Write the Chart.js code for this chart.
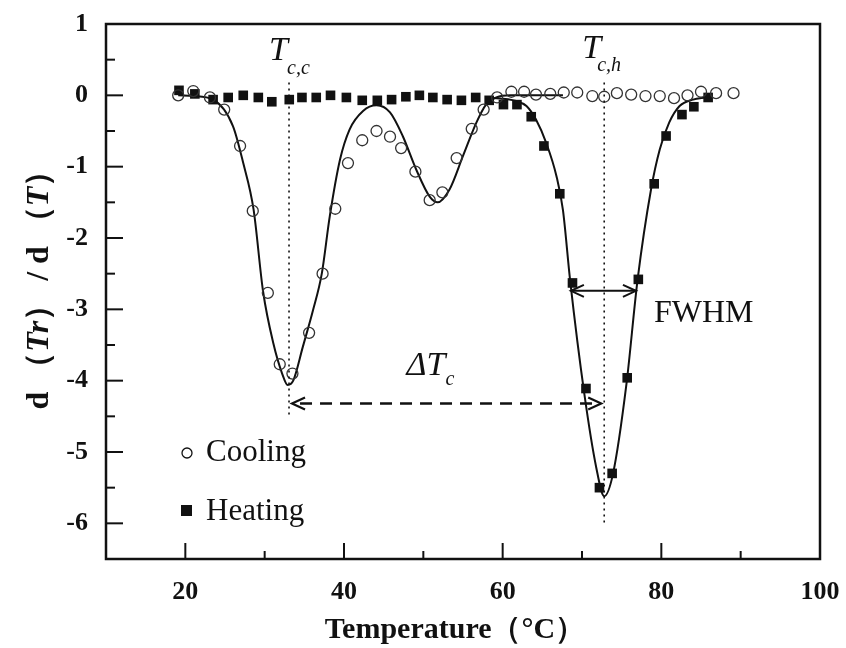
<!DOCTYPE html>
<html>
<head>
<meta charset="utf-8">
<script src="https://cdn.jsdelivr.net/npm/chart.js@4.4.1/dist/chart.umd.min.js"></script>
<style>
  html, body { margin: 0; padding: 0; background: #fff; }
</style>
</head>
<body>
<canvas id="chart" width="846" height="648"></canvas>
<script>
const serif = '"Liberation Serif", "Times New Roman", serif';

// Cooling (open circles)
const coolingTemp = [19.1, 21.0, 23.1, 24.9, 26.9, 28.5, 30.4, 31.9, 33.5, 35.6, 37.3, 38.9, 40.5, 42.3, 44.1, 45.8, 47.2, 49.0, 50.8, 52.4, 54.2, 56.1, 57.6, 59.3, 61.1, 62.7, 64.2, 66.0, 67.7, 69.4, 71.3, 72.8, 74.4, 76.2, 78.0, 79.8, 81.6, 83.3, 85.0, 86.9, 89.1];
const coolingVal = [0.0, 0.06, -0.03, -0.2, -0.71, -1.62, -2.77, -3.77, -3.9, -3.33, -2.5, -1.59, -0.95, -0.63, -0.5, -0.58, -0.74, -1.07, -1.47, -1.36, -0.88, -0.47, -0.2, -0.03, 0.05, 0.05, 0.01, 0.02, 0.04, 0.04, -0.01, -0.02, 0.03, 0.01, -0.01, -0.01, -0.04, 0.0, 0.05, 0.03, 0.03];

// Heating (filled squares)
const heatingTemp = [19.2, 21.2, 23.5, 25.4, 27.3, 29.2, 30.9, 33.1, 34.7, 36.5, 38.3, 40.3, 42.3, 44.2, 46.0, 47.8, 49.5, 51.2, 53.0, 54.8, 56.6, 58.3, 60.1, 61.8, 63.6, 65.2, 67.2, 68.8, 70.5, 72.2, 73.8, 75.7, 77.1, 79.1, 80.6, 82.6, 84.1, 85.9];
const heatingVal = [0.07, 0.02, -0.06, -0.03, 0.0, -0.03, -0.09, -0.06, -0.03, -0.03, 0.0, -0.03, -0.07, -0.07, -0.06, -0.02, 0.0, -0.03, -0.06, -0.07, -0.03, -0.07, -0.13, -0.13, -0.3, -0.71, -1.38, -2.63, -4.11, -5.5, -5.3, -3.96, -2.58, -1.24, -0.57, -0.27, -0.16, -0.03];

// fitted curves
const coolFitTemp = [19.1, 21.0, 23.5, 26.0, 27.3, 28.6, 29.8, 31.1, 32.2, 32.9, 33.6, 34.8, 36.1, 37.2, 38.2, 39.5, 40.7, 42.4, 44.1, 45.8, 47.4, 49.1, 50.8, 51.8, 53.3, 55.0, 56.7, 57.9, 59.2, 61.0, 67.6];
const coolFitVal = [0.0, -0.01, -0.06, -0.43, -0.95, -1.6, -2.75, -3.48, -3.9, -4.06, -4.0, -3.53, -3.01, -2.5, -1.7, -0.9, -0.48, -0.22, -0.14, -0.24, -0.57, -1.04, -1.42, -1.5, -1.32, -0.85, -0.38, -0.13, -0.03, 0.0, 0.0];
const heatFitTemp = [58.0, 61.7, 63.0, 64.2, 65.5, 66.8, 67.6, 68.5, 70.3, 71.8, 72.8, 73.9, 75.6, 77.0, 78.7, 79.8, 81.0, 82.3, 84.0, 85.6];
const heatFitVal = [-0.03, -0.08, -0.15, -0.34, -0.67, -1.14, -1.61, -2.59, -4.19, -5.22, -5.62, -5.31, -4.05, -2.59, -1.32, -0.76, -0.38, -0.15, -0.06, -0.03];

// tick labels
const xTickLabels = [20, 40, 60, 80, 100];
const yTickLabels = [1, 0, -1, -2, -3, -4, -5, -6];

// annotation values (data units)
const tcc = 33.07;
const tch = 72.8;
const deltaY = -4.32;
const fwhmY = -2.74;
const fwhmLeft = 68.6;
const fwhmRight = 76.8;

const toXY = (xs, ys) => xs.map((t, i) => ({ x: t, y: ys[i] }));

function line(ctx, x1, y1, x2, y2) {
    ctx.beginPath();
    ctx.moveTo(x1, y1);
    ctx.lineTo(x2, y2);
    ctx.stroke();
}

function arrowHead(ctx, x, y, dir) {
    // dir = 1 points right, -1 points left
    ctx.beginPath();
    ctx.moveTo(x - dir * 13, y - 6);
    ctx.lineTo(x, y);
    ctx.lineTo(x - dir * 13, y + 6);
    ctx.stroke();
}

// draw a list of [text, font, dy] runs one after another
function drawRuns(ctx, runs, x, y, align) {
    let total = 0;
    runs.forEach(r => { ctx.font = r[1]; total += ctx.measureText(r[0]).width; });
    let cx = align === 'center' ? x - total / 2 : x;
    runs.forEach(r => {
        ctx.font = r[1];
        ctx.fillText(r[0], cx, y + (r[2] || 0));
        cx += ctx.measureText(r[0]).width;
    });
}

const framePlugin = {
    id: 'frame',
    afterDatasetsDraw(chart) {
        const { ctx, chartArea: a, scales: { x, y } } = chart;
        ctx.save();
        ctx.strokeStyle = '#111';
        ctx.fillStyle = '#111';
        ctx.setLineDash([]);

        // inward tick marks
        ctx.lineWidth = 2;
        x.ticks.forEach(t => {
            if (t.value <= x.min || t.value >= x.max) return;
            const px = x.getPixelForValue(t.value);
            const len = xTickLabels.includes(t.value) ? 16 : 8;
            line(ctx, px, a.bottom, px, a.bottom - len);
        });
        y.ticks.forEach(t => {
            if (t.value <= y.min || t.value >= y.max) return;
            const py = y.getPixelForValue(t.value);
            const len = yTickLabels.includes(t.value) ? 17 : 9;
            line(ctx, a.left, py, a.left + len, py);
        });

        // box
        ctx.lineWidth = 2.5;
        ctx.strokeRect(a.left, a.top, a.right - a.left, a.bottom - a.top);

        // dotted guide lines at Tc,c and Tc,h
        ctx.lineWidth = 1.6;
        ctx.setLineDash([2, 4]);
        line(ctx, x.getPixelForValue(tcc), y.getPixelForValue(0.18), x.getPixelForValue(tcc), y.getPixelForValue(-4.52));
        line(ctx, x.getPixelForValue(tch), y.getPixelForValue(0.18), x.getPixelForValue(tch), y.getPixelForValue(-6.0));

        // delta Tc dashed arrow
        ctx.lineWidth = 2.5;
        ctx.setLineDash([12, 8]);
        const dy = y.getPixelForValue(deltaY);
        const dl = x.getPixelForValue(tcc) + 3;
        const dr = x.getPixelForValue(tch) - 3;
        line(ctx, dl + 8, dy, dr - 8, dy);
        ctx.setLineDash([]);
        ctx.lineWidth = 2.2;
        arrowHead(ctx, dl, dy, -1);
        arrowHead(ctx, dr, dy, 1);

        // FWHM arrow
        const fy = y.getPixelForValue(fwhmY);
        const fl = x.getPixelForValue(fwhmLeft);
        const fr = x.getPixelForValue(fwhmRight);
        ctx.lineWidth = 2;
        line(ctx, fl, fy, fr, fy);
        arrowHead(ctx, fl, fy, -1);
        arrowHead(ctx, fr, fy, 1);

        // labels
        ctx.textBaseline = 'alphabetic';
        ctx.textAlign = 'left';
        const pcc = x.getPixelForValue(tcc);
        const pch = x.getPixelForValue(tch);
        const top = y.getPixelForValue(0);
        drawRuns(ctx, [['T', 'italic 34px ' + serif]], pcc - 20, top - 35);
        drawRuns(ctx, [['c,c', 'italic 20px ' + serif]], pcc - 2, top - 21);
        drawRuns(ctx, [['T', 'italic 34px ' + serif]], pch - 22, top - 37);
        drawRuns(ctx, [['c,h', 'italic 20px ' + serif]], pch - 7, top - 24);

        drawRuns(ctx, [['\u0394T', 'italic 34px ' + serif], ['c', 'italic 20px ' + serif, 10]],
            (dl + dr) / 2 - 40, dy - 28);
        drawRuns(ctx, [['FWHM', '32px ' + serif]], fr + 18, fy + 31);

        // legend
        ctx.font = '31px ' + serif;
        ctx.lineWidth = 1.3;
        ctx.beginPath();
        ctx.arc(a.left + 81, a.top + 429, 5, 0, Math.PI * 2);
        ctx.stroke();
        ctx.fillText(chart.data.datasets[0].label, a.left + 100, a.top + 437);
        ctx.fillRect(a.left + 75, a.top + 481, 11, 11);
        ctx.fillText(chart.data.datasets[1].label, a.left + 100, a.top + 496);

        // axis titles
        drawRuns(ctx, [['Temperature\uFF08\u00B0C\uFF09', 'bold 30px ' + serif]], a.left + a.width / 2 - 8, 638, 'center');
        ctx.translate(40, a.top + 258);
        ctx.rotate(-Math.PI / 2);
        ctx.textBaseline = 'middle';
        drawRuns(ctx, [
            ['d \uFF08', 'bold 32px ' + serif],
            ['Tr', 'bold italic 32px ' + serif],
            ['\uFF09 / d \uFF08', 'bold 32px ' + serif],
            ['T', 'bold italic 32px ' + serif],
            ['\uFF09', 'bold 32px ' + serif]
        ], 0, 0, 'center');
        ctx.restore();
    }
};

new Chart(document.getElementById('chart'), {
    type: 'scatter',
    data: {
        datasets: [
            {
                label: 'Cooling',
                data: toXY(coolingTemp, coolingVal),
                pointStyle: 'circle',
                pointRadius: 5.5,
                borderWidth: 1.3,
                borderColor: '#333',
                backgroundColor: 'rgba(0,0,0,0)'
            },
            {
                label: 'Heating',
                data: toXY(heatingTemp, heatingVal),
                pointStyle: 'rect',
                pointRadius: 6.8,
                borderWidth: 0,
                borderColor: '#111',
                backgroundColor: '#111'
            },
            {
                label: 'Cooling fit',
                data: toXY(coolFitTemp, coolFitVal),
                showLine: true,
                pointRadius: 0,
                borderColor: '#111',
                borderWidth: 2,
                cubicInterpolationMode: 'monotone'
            },
            {
                label: 'Heating fit',
                data: toXY(heatFitTemp, heatFitVal),
                showLine: true,
                pointRadius: 0,
                borderColor: '#111',
                borderWidth: 2,
                cubicInterpolationMode: 'monotone'
            }
        ]
    },
    options: {
        responsive: false,
        animation: false,
        layout: { padding: { left: 0, top: 24, right: 26, bottom: 0 } },
        plugins: {
            legend: { display: false },
            tooltip: { enabled: false }
        },
        scales: {
            x: {
                min: 10,
                max: 100,
                grid: { display: false, drawTicks: false },
                border: { display: false },
                afterFit: s => { s.height = 89; s.paddingLeft = 0; s.paddingRight = 0; },
                ticks: {
                    stepSize: 10,
                    autoSkip: false,
                    maxRotation: 0,
                    padding: 18,
                    color: '#111',
                    font: { family: serif, size: 26, weight: 'bold' },
                    callback: v => xTickLabels.includes(v) ? String(v) : ''
                }
            },
            y: {
                min: -6.5,
                max: 1,
                grid: { display: false, drawTicks: false },
                border: { display: false },
                afterFit: s => { s.width = 106; s.paddingTop = 0; s.paddingBottom = 0; },
                ticks: {
                    stepSize: 0.5,
                    autoSkip: false,
                    padding: 18,
                    color: '#111',
                    font: { family: serif, size: 26, weight: 'bold' },
                    callback: v => yTickLabels.includes(v) ? String(v) : ''
                }
            }
        }
    },
    plugins: [framePlugin]
});
</script>
</body>
</html>
